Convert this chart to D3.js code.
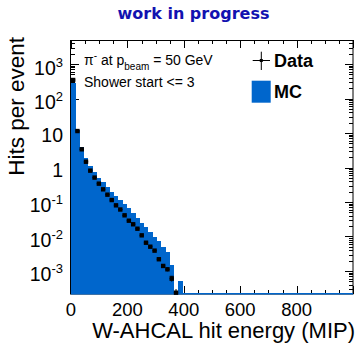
<!DOCTYPE html>
<html>
<head>
<meta charset="utf-8">
<script src="https://cdn.jsdelivr.net/npm/d3@7"></script>
<style>
  html, body { margin: 0; padding: 0; background: #fff; }
  svg { display: block; font-family: "Liberation Sans", Arial, sans-serif; }
</style>
</head>
<body>
<svg id="chart" width="356" height="344"></svg>
<script>
// Hit energy spectrum, binned in MIP
const binWidth = 15.2;
const dataValues = [344, 11.4, 3.37, 1.47, 0.81, 0.51, 0.34, 0.233, 0.163, 0.114,
  0.080, 0.0606, 0.0411, 0.0287, 0.0226, 0.0168, 0.0108, 0.0066, 0.00506, 0.00389,
  0.00219, 0.0014, 0.00112, 0.000598, 0.000235];
const dataErrors = [0.079, 0.0143, 0.0078, 0.0051, 0.0038, 0.0030, 0.00247, 0.00205, 0.00171, 0.00143,
  0.0012, 0.00104, 0.00086, 0.00072, 0.00064, 0.00055, 0.00044, 0.00034, 0.00030, 0.000265,
  0.000199, 0.000159, 0.000142, 0.000104, 0.000065];
const mcValues = [287, 12.2, 3.93, 1.88, 1.10, 0.74, 0.513, 0.38, 0.272, 0.195,
  0.149, 0.114, 0.0875, 0.0656, 0.049, 0.0337, 0.0241, 0.0185, 0.0138, 0.00986,
  0.0074, 0.00497, 0.00355, 0.00149, 0, 0.00053];
const xTickValues = [0, 200, 400, 600, 800];
const yTickExponents = [-3, -2, -1, 0, 1, 2, 3];

const svg = d3.select("#chart");
const L = 71, R = 353, T = 40, B = 294;
const mcColor = "#0066cc";

const x = d3.scaleLinear().domain([0, 1000]).range([L, R]);
const y = d3.scaleLog().domain([Math.pow(10, -3.667), Math.pow(10, 3.696)]).range([B, T]);
const [yMin] = y.domain();

// tick marks on all four sides, pointing inwards
const ticks = svg.append("g").attr("stroke", "#000").attr("stroke-width", 1);
d3.range(0, 1001, 50).forEach(v => {
  const len = v % 200 === 0 ? 8 : 4;
  const px = Math.round(x(v)) + 0.5;
  ticks.append("line").attr("x1", px).attr("x2", px).attr("y1", B).attr("y2", B - len);
  ticks.append("line").attr("x1", px).attr("x2", px).attr("y1", T).attr("y2", T + len);
});
for (let e = -4; e <= 3; e++) {
  for (let m = 1; m <= 9; m++) {
    const v = m * Math.pow(10, e);
    if (v < y.domain()[0] || v > y.domain()[1]) continue;
    const len = m === 1 ? 8 : 4;
    const py = Math.round(y(v)) + 0.5;
    ticks.append("line").attr("x1", L).attr("x2", L + len).attr("y1", py).attr("y2", py);
    ticks.append("line").attr("x1", R).attr("x2", R - len).attr("y1", py).attr("y2", py);
  }
}

// frame
svg.append("rect").attr("x", L - 0.5).attr("y", T + 0.5).attr("width", R - L + 0.5).attr("height", B - T - 0.5)
  .attr("fill", "none").attr("stroke", "#000").attr("stroke-width", 1);

// MC histogram (filled bars)
svg.append("g").attr("shape-rendering", "crispEdges")
  .selectAll("rect").data(mcValues.map((v, i) => ({ v, i })).filter(d => d.v > 0))
  .join("rect")
  .attr("x", d => x(d.i * binWidth))
  .attr("width", d => x((d.i + 1) * binWidth) - x(d.i * binWidth) + 0.3)
  .attr("y", d => y(d.v))
  .attr("height", d => B - y(d.v))
  .attr("fill", mcColor);

// empty-bin outline along the lower edge
svg.append("line").attr("x1", L).attr("x2", R).attr("y1", B - 0.25).attr("y2", B - 0.25)
  .attr("stroke", mcColor).attr("stroke-width", 1.5);

// data points with error bars
const pts = svg.append("g");
dataValues.forEach((v, i) => {
  const cx = x((i + 0.5) * binWidth);
  const cy = y(v);
  const lo = Math.max(v - dataErrors[i], yMin);
  const hi = v + dataErrors[i];
  pts.append("line").attr("x1", x(i * binWidth)).attr("x2", x((i + 1) * binWidth))
    .attr("y1", cy).attr("y2", cy).attr("stroke", "#000").attr("stroke-width", 1);
  pts.append("line").attr("x1", cx).attr("x2", cx).attr("y1", y(lo)).attr("y2", y(hi))
    .attr("stroke", "#000").attr("stroke-width", 1);
  if (y(lo) - y(hi) > 5) {
    pts.append("line").attr("x1", cx - 2).attr("x2", cx + 2).attr("y1", y(hi)).attr("y2", y(hi))
      .attr("stroke", "#000").attr("stroke-width", 1);
  }
  pts.append("rect").attr("x", cx - 2.2).attr("y", cy - 2.2).attr("width", 4.4).attr("height", 4.4)
    .attr("fill", "#000");
});

// x tick labels
svg.append("g").selectAll("text").data(xTickValues).join("text")
  .attr("x", d => x(d)).attr("y", 315.5)
  .attr("text-anchor", "middle").attr("font-size", 18.5).text(d => d);

// y tick labels (powers of ten)
const yl = svg.append("g");
yTickExponents.forEach(e => {
  const py = y(Math.pow(10, e));
  const t = yl.append("text").attr("text-anchor", "end").attr("font-size", 19.5);
  if (e === 0) {
    t.attr("x", 63).attr("y", py + 9).text("1");
  } else if (e === 1) {
    t.attr("x", 63).attr("y", py + 9).text("10");
  } else {
    t.attr("x", 63).attr("y", py + 10.5);
    t.append("tspan").text("10");
    t.append("tspan").attr("font-size", 13).attr("dy", -8).text(String(e));
  }
});

// axis titles
svg.append("text").attr("x", 355).attr("y", 338).attr("text-anchor", "end")
  .attr("font-size", 22).text("W-AHCAL hit energy (MIP)");
svg.append("text").attr("transform", "translate(23.5,37) rotate(-90)").attr("text-anchor", "end")
  .attr("font-size", 22.5).text("Hits per event");

// title
svg.append("text").attr("x", 193.5).attr("y", 18.5).attr("text-anchor", "middle")
  .attr("font-family", "DejaVu Sans").attr("font-weight", "bold").attr("font-size", 16)
  .attr("fill", "#1212b0").text("work in progress");

// run conditions
const info = svg.append("text").attr("x", 84).attr("y", 65).attr("font-size", 14);
info.append("tspan").text("π");
info.append("tspan").attr("font-size", 10).attr("dy", -6).text("-");
info.append("tspan").attr("dy", 6).text(" at p");
info.append("tspan").attr("font-size", 10).attr("dy", 5).text("beam");
info.append("tspan").attr("dy", -5).text(" = 50 GeV");
svg.append("text").attr("x", 84).attr("y", 87).attr("font-size", 14).text("Shower start <= 3");

// legend
const lg = svg.append("g");
lg.append("line").attr("x1", 252.7).attr("x2", 270).attr("y1", 60.5).attr("y2", 60.5).attr("stroke", "#000");
lg.append("line").attr("x1", 261.3).attr("x2", 261.3).attr("y1", 51.7).attr("y2", 70).attr("stroke", "#000");
lg.append("rect").attr("x", 259.8).attr("y", 59).attr("width", 3).attr("height", 3).attr("fill", "#000");
lg.append("text").attr("x", 274).attr("y", 67).attr("font-size", 18).attr("font-weight", "bold").text("Data");
lg.append("rect").attr("x", 251.7).attr("y", 80.7).attr("width", 19).attr("height", 22).attr("fill", mcColor);
lg.append("text").attr("x", 274).attr("y", 98).attr("font-size", 18).attr("font-weight", "bold").text("MC");
</script>
</body>
</html>
